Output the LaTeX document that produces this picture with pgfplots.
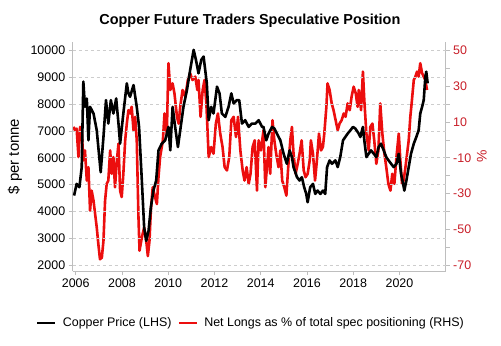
\documentclass[border=0pt]{standalone}
\usepackage{fontspec}
\setmainfont{Liberation Sans}
\usepackage{pgfplots}
\pgfplotsset{compat=1.18}
\definecolor{cred}{RGB}{236,14,14}
\definecolor{tred}{RGB}{200,30,40}
\definecolor{spine}{RGB}{190,190,190}
\definecolor{gridc}{RGB}{205,205,205}
\pgfplotsset{
  base/.style={
    scale only axis, width=373bp, height=229bp,
    at={(0,0)}, anchor=south west,
    xmin=2005.87, xmax=2022.0,
    /pgf/number format/assume math mode=true,
    /pgf/number format/1000 sep={},
    scaled y ticks=false, scaled x ticks=false,
    tick align=outside, major tick length=4bp, minor tick length=4bp,
    tick style={spine, line width=0.6bp},
    ticklabel style={font=\fontsize{12.5}{15}\selectfont},
    axis line style={spine, line width=0.8bp},
  }
}
\begin{document}
\begin{tikzpicture}
\useasboundingbox (-72.7bp,-75bp) rectangle (428.3bp,271bp);
% right axis: net longs (red)
\begin{axis}[base,
  axis y line*=right, axis x line=none,
  ymin=-73.36, ymax=54.76,
  ytick={-70,-50,-30,-10,10,30,50},
  minor ytick={-60,-40,-20,0,20,40},
  yticklabel style={text=tred},
  ylabel={\%}, ylabel style={tred, font=\fontsize{14}{16}\selectfont, at={(axis description cs:1.097,0.5)}, anchor=center},
]
\addplot[cred, line width=2.6bp, line join=round] coordinates {
(2005.90,7.25) (2005.97,5.4) (2006.04,6.3) (2006.12,-9.6) (2006.19,7.25) (2006.26,5.4)
(2006.33,-11.5) (2006.40,-5.9) (2006.48,-22.75) (2006.55,-15.25) (2006.62,-39.6) (2006.69,-28.4)
(2006.77,-34) (2006.84,-41.5) (2006.91,-49) (2006.98,-58.4) (2007.05,-66.8) (2007.13,-65.9)
(2007.20,-56.5) (2007.27,-34) (2007.34,-24.6) (2007.41,-22.75) (2007.49,-5.9) (2007.56,-19)
(2007.63,-9.6) (2007.70,-26.5) (2007.78,-11.5) (2007.85,-2.1) (2007.92,-28.4) (2007.99,-32)
(2008.06,-19) (2008.14,-0.25) (2008.21,9.1) (2008.28,16.6) (2008.35,14.75) (2008.42,18.5)
(2008.50,5.4) (2008.57,12.9) (2008.64,-0.25) (2008.71,-41.5) (2008.76,-62) (2008.86,-54.6)
(2008.96,-49) (2009.05,-56.5) (2009.12,-65) (2009.19,-56.5) (2009.25,-39.6) (2009.33,-26.5)
(2009.43,-32) (2009.51,-35.9) (2009.58,-20.9) (2009.65,-9.6) (2009.77,-0.25) (2009.84,14.75)
(2009.94,3.5) (2010.01,42.9) (2010.09,27.9) (2010.19,31.6) (2010.27,26) (2010.38,12.9)
(2010.45,9.1) (2010.52,18.5) (2010.62,27.9) (2010.74,24.1) (2010.85,33.5) (2010.95,37.25)
(2011.05,33.5) (2011.17,35.4) (2011.26,27.9) (2011.31,33.5) (2011.40,12.9) (2011.49,27.9)
(2011.57,33.5) (2011.65,20.4) (2011.75,-9.6) (2011.86,-4) (2011.96,-7.75) (2012.06,9.1)
(2012.15,14.75) (2012.25,3.5) (2012.35,-4) (2012.44,-15.25) (2012.54,-17.1) (2012.64,-9.6)
(2012.73,11) (2012.83,12.9) (2012.93,1.6) (2013.02,12.9) (2013.12,-5.9) (2013.22,-17.1)
(2013.30,-22.75) (2013.39,-15.25) (2013.48,-24.6) (2013.56,-19) (2013.65,-4) (2013.74,-0.25)
(2013.84,-28.4) (2013.91,-0.25) (2014.01,-5.9) (2014.12,5.4) (2014.20,-26.5) (2014.27,-15.25)
(2014.34,-4) (2014.41,-19) (2014.51,11) (2014.59,-0.25) (2014.67,-7.75) (2014.77,-15.25)
(2014.85,-5.9) (2014.93,-22.75) (2015.02,-26.5) (2015.11,-31.2) (2015.19,-15.25) (2015.28,-0.25)
(2015.35,7.25) (2015.42,-7.75) (2015.51,-19) (2015.60,-13.4) (2015.68,-7.75) (2015.77,-0.25)
(2015.86,-17.1) (2015.94,-20.9) (2016.03,-19) (2016.12,-11.5) (2016.17,-0.25) (2016.26,-7.75)
(2016.35,-22.75) (2016.43,-11.5) (2016.52,3.5) (2016.61,-5.9) (2016.69,-4) (2016.75,3.5)
(2016.84,18.5) (2016.89,31.6) (2016.98,27.9) (2017.07,20.4) (2017.15,16.6) (2017.24,11)
(2017.33,5.4) (2017.41,9.1) (2017.50,11) (2017.59,14.75) (2017.67,12.9) (2017.76,20.4)
(2017.85,16.6) (2017.93,24.1) (2018.02,29.75) (2018.11,26) (2018.19,18.5) (2018.24,27.9)
(2018.34,16.6) (2018.42,38.2) (2018.48,22.25) (2018.57,3.5) (2018.67,-5.9) (2018.74,7.25)
(2018.83,9.1) (2018.91,-0.25) (2019.00,-13.4) (2019.09,-5.9) (2019.17,20.4) (2019.26,3.5)
(2019.35,-7.75) (2019.43,-15.25) (2019.52,-24.6) (2019.61,-28.4) (2019.69,-19) (2019.78,-24.6)
(2019.87,-9.6) (2019.97,3.5) (2020.04,-11.5) (2020.11,-24.6) (2020.18,-22.75) (2020.26,-15.25)
(2020.33,-7.75) (2020.40,-0.25) (2020.47,12.9) (2020.54,22.25) (2020.62,33.5) (2020.69,35.4)
(2020.76,38.2) (2020.83,35.4) (2020.90,42.9) (2020.98,37.25) (2021.05,35.4) (2021.12,33.5)
(2021.19,27.9)
};
\end{axis}
% left axis: copper price (black)
\begin{axis}[base,
  axis y line*=left, axis x line*=bottom,
  ymin=1776, ymax=10317,
  ytick={2000,3000,...,10000},
  xtick={2006,2008,...,2020},
  ymajorgrids, grid style={gridc, dashed, line width=0.6bp},
  ylabel={\$ per tonne}, ylabel style={font=\fontsize{15}{18}\selectfont, at={(axis description cs:-0.155,0.5)}, anchor=center},
  title={Copper Future Traders Speculative Position},
  title style={font=\bfseries\fontsize{14.5}{17}\selectfont, at={(axis description cs:0.475,1.066)}, anchor=center},
  legend style={at={(0.478,-0.227)}, anchor=center, draw=none, legend columns=2,
    font=\fontsize{12.5}{15}\selectfont, column sep=4bp},
  legend image code/.code={\draw[#1, line width=2.8bp] (0bp,0bp) -- (18bp,0bp);},
]
\addplot[black, line width=2.6bp, line join=round] coordinates {
(2005.93,4590) (2006.04,5025) (2006.16,4900) (2006.26,5650) (2006.33,8840) (2006.40,7900)
(2006.48,8210) (2006.55,6650) (2006.62,7900) (2006.77,7650) (2006.91,7025) (2007.08,5460)
(2007.20,6775) (2007.31,8150) (2007.41,7275) (2007.52,8150) (2007.63,7650) (2007.75,8210)
(2007.85,7275) (2007.92,6525) (2008.06,7650) (2008.21,8775) (2008.28,8400) (2008.35,8275)
(2008.50,8710) (2008.64,7900) (2008.74,7150) (2008.86,5150) (2008.96,3400) (2009.05,2900)
(2009.15,3275) (2009.25,4150) (2009.36,4775) (2009.48,5150) (2009.58,6275) (2009.72,6525)
(2009.87,6650) (2010.01,7150) (2010.09,6275) (2010.19,7900) (2010.30,7150) (2010.42,6400)
(2010.52,7025) (2010.66,7900) (2010.81,8525) (2010.95,9275) (2011.10,10025) (2011.20,9650)
(2011.31,9150) (2011.43,9650) (2011.53,9775) (2011.60,9275) (2011.67,8775) (2011.75,7400)
(2011.86,7900) (2011.96,7650) (2012.11,8650) (2012.22,8400) (2012.32,7650) (2012.47,7525)
(2012.61,7900) (2012.73,8400) (2012.83,8025) (2012.97,8150) (2013.07,8150) (2013.19,7275)
(2013.33,7400) (2013.48,7150) (2013.62,7275) (2013.77,7275) (2013.91,7400) (2014.06,7150)
(2014.12,7150) (2014.24,6650) (2014.34,6900) (2014.49,7150) (2014.59,7090) (2014.70,6900)
(2014.85,6650) (2014.99,6150) (2015.13,5775) (2015.25,6275) (2015.35,6025) (2015.42,5650)
(2015.57,5275) (2015.68,5150) (2015.78,5275) (2015.88,4900) (2015.97,4650) (2016.03,4340)
(2016.14,4900) (2016.26,5025) (2016.36,4650) (2016.46,4775) (2016.58,4650) (2016.69,4775)
(2016.79,4650) (2016.87,5650) (2016.98,5900) (2017.08,5775) (2017.23,5900) (2017.33,5650)
(2017.44,6025) (2017.56,6650) (2017.66,6775) (2017.76,6900) (2017.88,7025) (2017.99,7150)
(2018.09,7090) (2018.24,6900) (2018.31,6775) (2018.42,7150) (2018.48,6650) (2018.57,6025)
(2018.67,6150) (2018.77,6275) (2018.89,6150) (2019.00,6025) (2019.10,6400) (2019.20,6525)
(2019.32,6275) (2019.43,6025) (2019.53,5900) (2019.64,5775) (2019.75,5650) (2019.87,5775)
(2019.97,6150) (2020.07,5400) (2020.16,5025) (2020.21,4775) (2020.30,5150) (2020.40,5650)
(2020.50,6150) (2020.62,6525) (2020.73,6775) (2020.83,7025) (2020.90,7650) (2020.98,7900)
(2021.05,8150) (2021.12,9025) (2021.16,9210) (2021.22,8775)
};
\addlegendentry{Copper Price (LHS)}
\addlegendimage{cred}
\addlegendentry{Net Longs as \% of total spec positioning (RHS)}
\end{axis}
\end{tikzpicture}
\end{document}
